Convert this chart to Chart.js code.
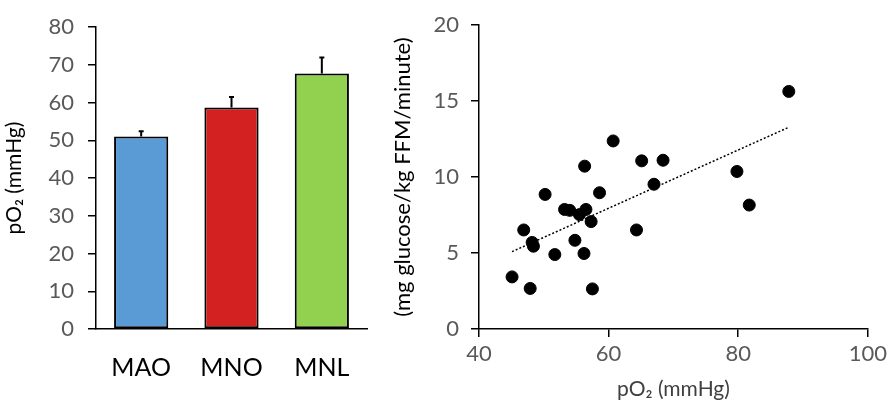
<!DOCTYPE html>
<html>
<head>
<meta charset="utf-8">
<script src="https://cdn.jsdelivr.net/npm/chart.js@4.4.0/dist/chart.umd.min.js"></script>
<style>
  html, body { margin: 0; padding: 0; background: #fff; }
  #left { position: absolute; left: 0; top: 0; width: 385px; height: 403px; }
  #right { position: absolute; left: 385px; top: 0; width: 506px; height: 403px; }
</style>
</head>
<body>
<div id="left"><canvas id="barChart"></canvas></div>
<div id="right"><canvas id="scatterChart"></canvas></div>
<script>
// bar chart data
var groups = ['MAO', 'MNO', 'MNL'];
var groupMeans = [51.0, 58.7, 67.7];
var groupErrors = [1.4, 2.8, 4.3];
var groupColors = ['#5B9BD5', '#D32020', '#92D050'];

// scatter data: pO2 (mmHg) vs glucose uptake
var pO2 = [60.7, 56.3, 65.1, 68.4, 67.0, 50.2, 58.6, 53.2, 54.0, 56.5, 55.5, 57.3,
           46.9, 64.3, 48.2, 48.4, 54.8, 51.7, 56.2, 45.1, 47.9, 57.5, 87.8, 79.8, 81.7];
var glucose = [12.38, 10.72, 11.07, 11.11, 9.53, 8.86, 8.97, 7.87, 7.81, 7.87, 7.53, 7.07,
               6.52, 6.52, 5.70, 5.45, 5.84, 4.90, 4.97, 3.43, 2.67, 2.64, 15.64, 10.37, 8.16];

var yTicksLeft = [0, 10, 20, 30, 40, 50, 60, 70, 80];
var xTicksRight = [40, 60, 80, 100];
var yTicksRight = [0, 5, 10, 15, 20];

var fontFam = 'Lato, "Open Sans", sans-serif';
var tickGray = '#595959';

// least-squares trendline from the scatter points
function trend(xs, ys) {
  var n = xs.length, sx = 0, sy = 0, sxx = 0, sxy = 0;
  for (var i = 0; i < n; i++) {
    sx += xs[i]; sy += ys[i]; sxx += xs[i] * xs[i]; sxy += xs[i] * ys[i];
  }
  var m = (n * sxy - sx * sy) / (n * sxx - sx * sx);
  var b = (sy - m * sx) / n;
  var x0 = Math.min.apply(null, xs), x1 = Math.max.apply(null, xs);
  return [{x: x0, y: m * x0 + b}, {x: x1, y: m * x1 + b}];
}

// error bars (upper only) drawn through the y scale
var errorBars = {
  id: 'errorBars',
  afterDatasetsDraw: function(chart) {
    var ctx = chart.ctx;
    var meta = chart.getDatasetMeta(0);
    var ys = chart.scales.y;
    ctx.save();
    ctx.strokeStyle = '#000';
    ctx.lineWidth = 2;
    meta.data.forEach(function(bar, i) {
      var top = ys.getPixelForValue(groupMeans[i] + groupErrors[i]);
      ctx.beginPath();
      ctx.moveTo(bar.x, bar.y);
      ctx.lineTo(bar.x, top);
      ctx.moveTo(bar.x - 2.5, top);
      ctx.lineTo(bar.x + 2.5, top);
      ctx.stroke();
    });
    ctx.restore();
  }
};

new Chart(document.getElementById('barChart'), {
  type: 'bar',
  data: {
    labels: groups,
    datasets: [{
      data: groupMeans,
      backgroundColor: groupColors,
      borderColor: '#000',
      borderWidth: 2,
      borderSkipped: false,
      barPercentage: 0.6,
      categoryPercentage: 1.0
    }]
  },
  options: {
    responsive: true,
    maintainAspectRatio: false,
    animation: false,
    layout: { padding: { top: 14, right: 18, left: 0, bottom: 0 } },
    plugins: { legend: { display: false }, tooltip: { enabled: false } },
    scales: {
      x: {
        grid: { display: true, drawOnChartArea: false, drawTicks: false },
        border: { color: '#000', width: 1.5 },
        ticks: { color: '#000', padding: 24, font: { family: fontFam, size: 25 } },
        afterFit: function(s) { s.height = 74; }
      },
      y: {
        min: 0, max: 80,
        afterBuildTicks: function(s) { s.ticks = yTicksLeft.map(function(v) { return {value: v}; }); },
        grid: { drawOnChartArea: false, drawTicks: true, tickLength: 8, color: '#000', lineWidth: 1.5 },
        border: { color: '#000', width: 1.5 },
        ticks: { color: tickGray, padding: 14, font: { family: fontFam, size: 22 } },
        title: { display: true, text: 'pO₂ (mmHg)', color: '#000', font: { family: fontFam, size: 21 }, padding: { top: 2, bottom: 0 } },
        afterFit: function(s) { s.width = 96; }
      }
    }
  },
  plugins: [errorBars]
});

new Chart(document.getElementById('scatterChart'), {
  type: 'scatter',
  data: {
    datasets: [{
      data: pO2.map(function(x, i) { return {x: x, y: glucose[i]}; }),
      backgroundColor: '#000',
      borderColor: '#000',
      pointRadius: 6,
      pointHoverRadius: 6
    }, {
      type: 'line',
      data: trend(pO2, glucose),
      borderColor: '#000',
      borderWidth: 1.5,
      borderDash: [2, 2],
      pointRadius: 0,
      fill: false
    }]
  },
  options: {
    responsive: true,
    maintainAspectRatio: false,
    animation: false,
    layout: { padding: { top: 14, right: 20, left: 0, bottom: 0 } },
    plugins: { legend: { display: false }, tooltip: { enabled: false } },
    scales: {
      x: {
        type: 'linear',
        min: 40, max: 100,
        afterBuildTicks: function(s) { s.ticks = xTicksRight.map(function(v) { return {value: v}; }); },
        grid: { drawOnChartArea: false, drawTicks: true, tickLength: 8, color: '#000', lineWidth: 1.5 },
        border: { color: '#000', width: 1.5 },
        ticks: { color: tickGray, padding: 4, font: { family: fontFam, size: 22 } },
        title: { display: true, text: 'pO₂ (mmHg)', color: '#404040', font: { family: fontFam, size: 21 }, padding: { top: 0, bottom: 1 } },
        afterFit: function(s) { s.height = 74; }
      },
      y: {
        min: 0, max: 20,
        afterBuildTicks: function(s) { s.ticks = yTicksRight.map(function(v) { return {value: v}; }); },
        grid: { drawOnChartArea: false, drawTicks: true, tickLength: 8, color: '#000', lineWidth: 1.5 },
        border: { color: '#000', width: 1.5 },
        ticks: { color: tickGray, padding: 12, font: { family: fontFam, size: 22 } },
        title: { display: true, text: '(mg glucose/kg FFM/minute)', color: '#000', font: { family: fontFam, size: 22 }, padding: { top: 5, bottom: 0 } },
        afterFit: function(s) { s.width = 94; }
      }
    }
  }
});
</script>
</body>
</html>
